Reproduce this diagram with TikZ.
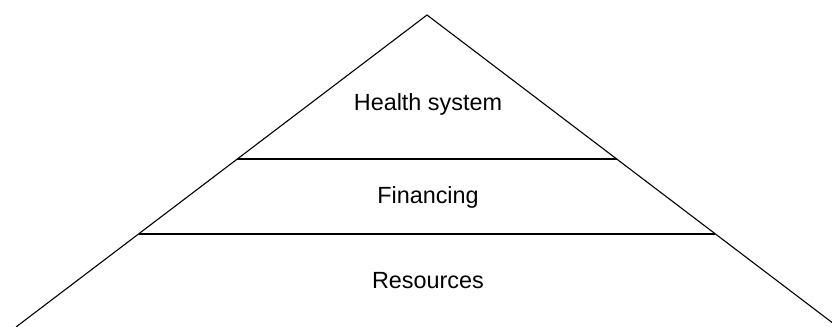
\documentclass[tikz,border=0pt]{standalone}
\usepackage{fontspec}
\setmainfont{Liberation Sans}
\begin{document}
\begin{tikzpicture}[x=0.5pt,y=-0.5pt,
  edge/.style={draw=black,line width=0.55pt},
  tier/.style={draw=black,line width=0.85pt},
  label/.style={font=\fontsize{11.7pt}{14pt}\selectfont,inner sep=0pt,anchor=center}]
\useasboundingbox (0,0) rectangle (832,327);
\clip (0,0) rectangle (832,327);
\coordinate (apex) at (427,15);
\coordinate (bl) at (16,327);
\coordinate (br) at (838,327);
\coordinate (t1l) at (237,159);
\coordinate (t1r) at (617,159);
\coordinate (t2l) at (139,234);
\coordinate (t2r) at (715,234);
\draw[edge] (bl) -- (apex) -- (br);
\draw[tier] (t1l) -- (t1r);
\draw[tier] (t2l) -- (t2r);
\node[label] (hs) at (428,104) {Health system};
\node[label] (fin) at (428,197) {Financing};
\node[label] (res) at (428,281) {Resources};
\end{tikzpicture}
\end{document}
